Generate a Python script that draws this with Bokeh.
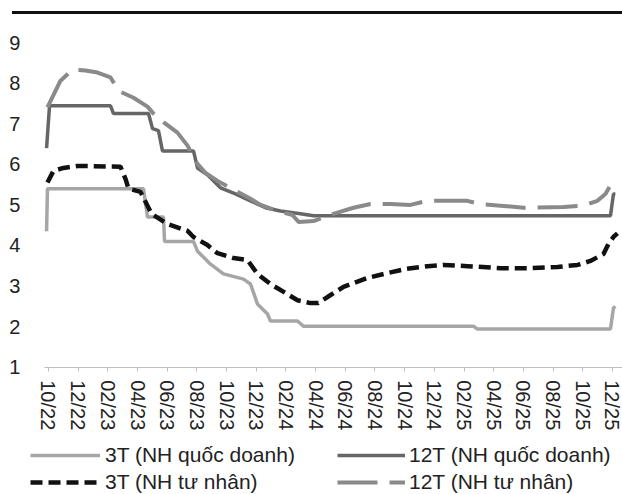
from bokeh.plotting import figure
from bokeh.models import Range1d, FixedTicker, Legend, LegendItem, Div
from bokeh.layouts import column
from bokeh.embed import file_html
from bokeh.resources import INLINE

# x in months since 10/2022
tick_months = list(range(0, 39, 2))
tick_labels = ["10/22", "12/22", "02/23", "04/23", "06/23", "08/23", "10/23", "12/23",
               "02/24", "04/24", "06/24", "08/24", "10/24", "12/24", "02/25", "04/25",
               "06/25", "08/25", "10/25", "12/25"]
y_ticks = [1, 2, 3, 4, 5, 6, 7, 8, 9]

series_names = ["3T (NH quốc doanh)", "12T (NH quốc doanh)", "3T (NH tư nhân)", "12T (NH tư nhân)"]

qd3_x = [-0.13, -0.07, 6.4, 6.67, 7.75, 7.82, 9.77, 10.04, 10.92, 11.79, 13.14, 13.61,
         14.08, 14.76, 14.96, 16.78, 17.18, 28.64, 28.91, 37.87, 38.07, 38.2]
qd3_y = [4.35, 5.4, 5.4, 4.7, 4.7, 4.1, 4.1, 3.86, 3.54, 3.3, 3.17, 3.05,
         2.56, 2.31, 2.14, 2.14, 2.01, 2.01, 1.94, 1.94, 2.46, 2.5]

qd12_x = [-0.13, 0.07, 4.18, 4.38, 6.74, 7.01, 7.41, 7.68, 9.77, 10.04, 10.71, 11.59,
          12.6, 13.61, 14.62, 15.63, 16.98, 17.86, 37.87, 38.07, 38.2]
qd12_y = [6.4, 7.44, 7.44, 7.25, 7.25, 6.88, 6.83, 6.33, 6.33, 5.91, 5.74, 5.42,
          5.27, 5.1, 4.93, 4.85, 4.78, 4.73, 4.73, 5.27, 5.27]

tn3_x = [-0.07, 0.34, 1.01, 1.95, 4.85, 5.19, 5.39, 6.2, 6.67, 6.94, 8.02, 9.37, 9.77,
         10.71, 11.39, 12.47, 13.41, 14.08, 14.96, 16.1, 16.78, 17.65, 18.19, 18.8,
         19.88, 21.5, 22.84, 24.06, 25.54, 26.62, 28.23, 30.46, 32.48, 34.3, 35.65,
         36.52, 37.4, 37.74, 38.07, 38.34]
tn3_y = [5.55, 5.84, 5.91, 5.96, 5.94, 5.64, 5.4, 5.32, 4.98, 4.78, 4.53, 4.36, 4.21,
         4.01, 3.81, 3.69, 3.64, 3.3, 3.05, 2.8, 2.65, 2.58, 2.58, 2.73,
         2.98, 3.2, 3.32, 3.42, 3.49, 3.52, 3.49, 3.44, 3.44, 3.47, 3.52,
         3.62, 3.79, 4.04, 4.21, 4.3]

tn12_x = [-0.07, 0.81, 1.62, 2.49, 3.3, 4.18, 4.72, 5.73, 6.67, 7.08, 7.88, 8.69, 9.37,
          10.04, 10.58, 11.39, 12.26, 13.61, 14.29, 15.43, 16.44, 16.85, 17.86, 19.2,
          20.55, 21.7, 23.05, 24.39, 25.54, 27.09, 28.23, 29.11, 30.46, 32.01, 34.7,
          36.05, 36.99, 37.53, 37.8]
tn12_y = [7.4, 8.06, 8.33, 8.31, 8.26, 8.14, 7.81, 7.64, 7.42, 7.25, 7.0, 6.78, 6.46,
          6.01, 5.79, 5.59, 5.42, 5.15, 5.0, 4.85, 4.75, 4.58, 4.6, 4.78,
          4.93, 5.02, 5.02, 5.0, 5.1, 5.1, 5.1, 5.02, 4.98, 4.93, 4.95,
          4.98, 5.1, 5.27, 5.44]

FONT = "Liberation Sans"

# frame covers the whole figure; axes are drawn at fixed data locations
p = figure(width=622, height=480, x_range=Range1d(-3.234, 38.68), y_range=Range1d(-2.136, 9.691),
           output_backend="svg", toolbar_location=None,
           min_border_left=0, min_border_right=0, min_border_top=0, min_border_bottom=0)
p.outline_line_color = None
p.grid.visible = False
p.background_fill_color = "white"

r_qd3 = p.line(qd3_x, qd3_y, line_color="#a6a6a6", line_width=3.5)
r_qd12 = p.line(qd12_x, qd12_y, line_color="#666666", line_width=3.5)
r_tn12 = p.line(tn12_x, tn12_y, line_color="#8a8a8a", line_width=4, line_dash="40 12")
r_tn3 = p.line(tn3_x, tn3_y, line_color="#111111", line_width=4.5, line_dash="12 6")

ya = p.yaxis[0]
ya.fixed_location = -0.27
ya.ticker = FixedTicker(ticks=y_ticks)
ya.axis_line_color = None
ya.major_tick_line_color = None
ya.minor_tick_line_color = None
ya.major_label_standoff = 18
ya.major_label_text_font = FONT
ya.major_label_text_font_size = "20px"
ya.major_label_text_color = "#222222"

xa = p.xaxis[0]
xa.fixed_location = 1
xa.bounds = (-0.27, 38.68)
xa.ticker = FixedTicker(ticks=tick_months)
xa.major_label_overrides = {m: lab for m, lab in zip(tick_months, tick_labels)}
xa.major_label_orientation = "vertical"
xa.axis_line_color = "#bdbdbd"
xa.major_tick_line_color = "#bdbdbd"
xa.major_tick_in = 0
xa.major_tick_out = 4
xa.minor_tick_line_color = None
xa.major_label_standoff = 9
xa.major_label_text_font = FONT
xa.major_label_text_font_size = "20px"
xa.major_label_text_color = "#222222"

def make_legend(items, loc, gw, so):
    return Legend(items=items, location=loc, orientation="vertical",
                  glyph_width=gw, glyph_height=20, label_standoff=so, spacing=3,
                  padding=0, margin=0, border_line_color=None, background_fill_alpha=0,
                  label_text_font=FONT, label_text_font_size="21px",
                  label_text_color="#222222")

legA = make_legend([LegendItem(label=series_names[0], renderers=[r_qd3]),
                    LegendItem(label=series_names[2], renderers=[r_tn3])], (30, 0), 70, 5)
legB = make_legend([LegendItem(label=series_names[1], renderers=[r_qd12]),
                    LegendItem(label=series_names[3], renderers=[r_tn12])], (337, 0), 68, 4)
p.add_layout(legA)
p.add_layout(legB)

top_rule = Div(width=610, height=3, margin=(11, 0, 0, 12), styles={"background-color": "#111111"})

layout = column(top_rule, p, spacing=0)
open("out.html", "w").write(file_html(layout, INLINE))
